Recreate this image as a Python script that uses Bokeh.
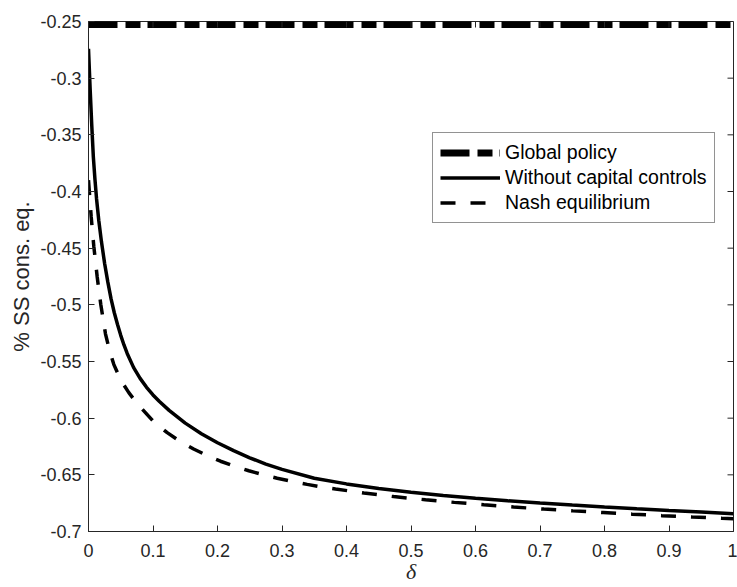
from bokeh.plotting import figure
from bokeh.models import Legend, LegendItem, FixedTicker, Range1d
from bokeh.embed import file_html
from bokeh.resources import INLINE

# ---- data ----
delta_global = [0.0, 1.0]
global_policy = [-0.2527, -0.2527]

delta_solid = [0.0, 0.0025, 0.005, 0.0075, 0.01, 0.0125, 0.016, 0.02, 0.025, 0.03,
               0.035, 0.04, 0.045, 0.05, 0.055, 0.06, 0.07, 0.08, 0.09, 0.1, 0.11,
               0.125, 0.15, 0.175, 0.2, 0.225, 0.25, 0.275, 0.3, 0.35, 0.4, 0.45,
               0.5, 0.55, 0.6, 0.65, 0.7, 0.75, 0.8, 0.85, 0.9, 0.95, 1.0]
without_capital_controls = [-0.274, -0.309, -0.341, -0.3694, -0.3893, -0.4066, -0.4258,
                            -0.444, -0.4635, -0.480, -0.4948, -0.507, -0.5174, -0.5269,
                            -0.5354, -0.5429, -0.5554, -0.5649, -0.5728, -0.5795, -0.5853,
                            -0.5931, -0.6044, -0.6137, -0.6217, -0.6287, -0.635, -0.6405,
                            -0.6452, -0.653, -0.658, -0.662, -0.6653, -0.6682, -0.6707,
                            -0.6729, -0.6749, -0.6767, -0.6784, -0.680, -0.6815, -0.6829,
                            -0.6843]

delta_nash = [0.0, 0.0042, 0.0082, 0.0135, 0.019, 0.0264, 0.033, 0.0392, 0.05, 0.0625,
              0.073, 0.083, 0.1, 0.122, 0.14, 0.163, 0.185, 0.2047, 0.225, 0.2485, 0.27,
              0.2925, 0.32, 0.339, 0.36, 0.383, 0.427, 0.473, 0.5225, 0.567, 0.613,
              0.659, 0.706, 0.751, 0.798, 0.843, 0.889, 0.936, 0.982, 1.0]
nash_equilibrium = [-0.39, -0.4225, -0.4482, -0.4755, -0.4995, -0.5258, -0.5412, -0.5525,
                    -0.5665, -0.5775, -0.5853, -0.5918, -0.6025, -0.6128, -0.6198, -0.6272,
                    -0.6333, -0.638, -0.6422, -0.6464, -0.6498, -0.653, -0.6563, -0.6584,
                    -0.6605, -0.6625, -0.666, -0.6692, -0.672, -0.6743, -0.6764, -0.6784,
                    -0.6802, -0.6818, -0.6833, -0.6847, -0.686, -0.6872, -0.6883, -0.6887]

x_ticks = [0, 0.1, 0.2, 0.3, 0.4, 0.5, 0.6, 0.7, 0.8, 0.9, 1]
x_tick_labels = ["0", "0.1", "0.2", "0.3", "0.4", "0.5", "0.6", "0.7", "0.8", "0.9", "1"]
y_ticks = [-0.7, -0.65, -0.6, -0.55, -0.5, -0.45, -0.4, -0.35, -0.3, -0.25]
y_tick_labels = ["-0.7", "-0.65", "-0.6", "-0.55", "-0.5", "-0.45", "-0.4", "-0.35", "-0.3", "-0.25"]

X_MIN, X_MAX = 0.0, 1.0
Y_MIN, Y_MAX = -0.7, -0.25

AX = "#262626"
FONT = "Liberation Sans"

W, H = 737, 587
ML, MR, MT, MB = 88, 4, 21, 56
FW, FH = W - ML - MR, H - MT - MB

p = figure(width=W, height=H, x_range=Range1d(X_MIN, X_MAX), y_range=Range1d(Y_MIN, Y_MAX),
           output_backend="svg", toolbar_location=None,
           min_border_left=ML, min_border_right=MR, min_border_top=MT, min_border_bottom=MB)
p.xgrid.visible = False
p.ygrid.visible = False
p.outline_line_color = AX
p.outline_line_width = 1
p.background_fill_color = "white"
p.border_fill_color = "white"

r_glob = p.line(delta_global, global_policy, line_color="black", line_width=7,
                line_dash="29 8 15 7")
r_solid = p.line(delta_solid, without_capital_controls, line_color="black", line_width=3.5)
r_nash = p.line(delta_nash, nash_equilibrium, line_color="black", line_width=3.5,
                line_dash="15 15")

# main axes
xa = p.xaxis[0]
ya = p.yaxis[0]
xa.ticker = FixedTicker(ticks=x_ticks)
ya.ticker = FixedTicker(ticks=y_ticks)
xa.major_label_overrides = dict(zip(x_ticks, x_tick_labels))
ya.major_label_overrides = dict(zip(y_ticks, y_tick_labels))
for ax in (xa, ya):
    ax.axis_line_color = AX
    ax.major_tick_line_color = AX
    ax.major_tick_in = 6
    ax.major_tick_out = 0
    ax.minor_tick_line_color = None
    ax.major_label_text_font = FONT
    ax.major_label_text_font_size = "18px"
    ax.major_label_text_color = AX
    ax.axis_label_text_color = AX
xa.major_label_standoff = 12
ya.major_label_standoff = 7

ya.axis_label = "% SS cons. eq."
ya.axis_label_text_font = FONT
ya.axis_label_text_font_size = "22px"
ya.axis_label_text_font_style = "normal"
ya.axis_label_standoff = 3

xa.axis_label = "δ"
xa.axis_label_text_font = "Liberation Serif"
xa.axis_label_text_font_size = "22px"
xa.axis_label_text_font_style = "italic"
xa.axis_label_standoff = -1

# mirrored tick marks on the top and right edges
tick_dx = 6 * (X_MAX - X_MIN) / FW
tick_dy = 6 * (Y_MAX - Y_MIN) / FH
p.segment(x0=x_ticks, y0=[Y_MAX] * len(x_ticks), x1=x_ticks, y1=[Y_MAX - tick_dy] * len(x_ticks),
          line_color=AX, line_width=1)
p.segment(x0=[X_MAX] * len(y_ticks), y0=y_ticks, x1=[X_MAX - tick_dx] * len(y_ticks), y1=y_ticks,
          line_color=AX, line_width=1)

legend = Legend(items=[LegendItem(label="Global policy", renderers=[r_glob]),
                       LegendItem(label="Without capital controls", renderers=[r_solid]),
                       LegendItem(label="Nash equilibrium", renderers=[r_nash])],
                location=(344, 308))
legend.label_text_font = FONT
legend.label_text_font_size = "19.5px"
legend.label_text_color = "black"
legend.glyph_width = 60
legend.glyph_height = 25
legend.label_height = 25
legend.spacing = 0
legend.padding = 7
legend.margin = 0
legend.label_standoff = 5
legend.border_line_color = AX
legend.border_line_width = 1
legend.background_fill_color = "white"
legend.background_fill_alpha = 1.0
p.add_layout(legend)

open("out.html", "w").write(file_html(p, INLINE))
